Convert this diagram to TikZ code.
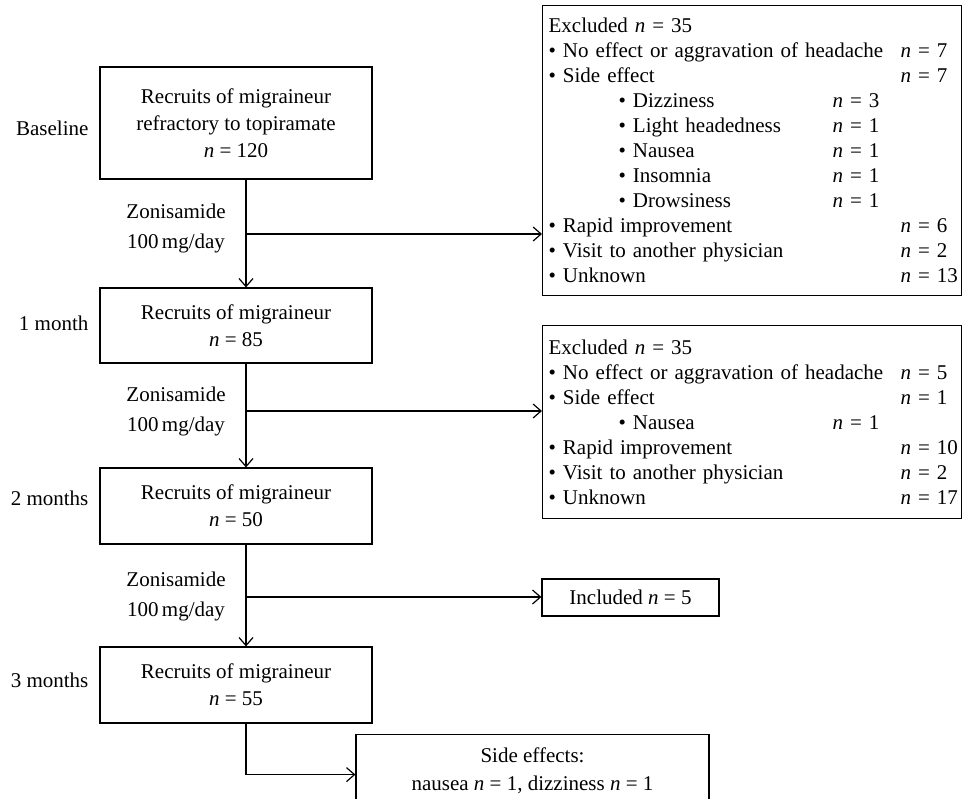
\documentclass[tikz,border=0pt]{standalone}
\usepackage{fontspec}
\setmainfont{Liberation Serif}
\usetikzlibrary{arrows.meta}

\newcommand{\nval}[1]{\textit{n}~=~#1}
\newcommand{\mainrow}[2]{\hspace*{3pt}\makebox[176pt][l]{\textbullet\ #1}\nval{#2}}
\newcommand{\subrow}[2]{\hspace*{38pt}\makebox[107pt][l]{\textbullet\ #1}\nval{#2}}

\begin{document}
\begin{tikzpicture}[
    x = 0.5pt,
    y = -0.5pt,
    >={Straight Barb[length=4pt,width=7pt]},
    line width=0.6pt,
    stage/.style = {draw, minimum width=136pt, align=center, inner sep=0pt,
              font=\fontsize{10.5}{13.5}\selectfont},
    period/.style = {anchor=east, inner sep=0pt, font=\fontsize{10.5}{12.5}\selectfont},
    dose/.style = {align=center, inner sep=0pt, font=\fontsize{10.5}{15}\selectfont},
    exclbox/.style = {draw, anchor=north west, align=left, text width=209.5pt,
              inner xsep=0pt, inner ysep=5pt,
              font=\fontsize{10.5}{12.5}\selectfont},
    outbox/.style = {draw, align=center, inner sep=0pt,
              font=\fontsize{10.5}{14}\selectfont},
    ]

\clip (0,0) rectangle (963,798);

% stages
\node[stage, minimum height=56pt] (base) at (236,123)
    {Recruits of migraineur\\refractory to topiramate\\\nval{120}};
\node[stage, minimum height=37.5pt] (month_1) at (236,325.5)
    {Recruits of migraineur\\\nval{85}};
\node[stage, minimum height=38pt] (month_2) at (236,506)
    {Recruits of migraineur\\\nval{50}};
\node[stage, minimum height=38pt] (month_3) at (236,685)
    {Recruits of migraineur\\\nval{55}};

\node[period] (lab_base) at (89,128) {Baseline};
\node[period] (lab_1) at (89,323) {1 month};
\node[period] (lab_2) at (89,498) {2 months};
\node[period] (lab_3) at (89,680) {3 months};

\node[dose] (dose_1) at (176,228) {Zonisamide\\100\,mg/day};
\node[dose] (dose_2) at (176,411) {Zonisamide\\100\,mg/day};
\node[dose] (dose_3) at (176,596) {Zonisamide\\100\,mg/day};

% outcomes
\node[exclbox, minimum height=145pt] (excl_1) at (542,5)
    {\hspace*{3pt}Excluded \nval{35}\\
     \mainrow{No effect or aggravation of headache}{7}\\
     \mainrow{Side effect}{7}\\
     \subrow{Dizziness}{3}\\
     \subrow{Light headedness}{1}\\
     \subrow{Nausea}{1}\\
     \subrow{Insomnia}{1}\\
     \subrow{Drowsiness}{1}\\
     \mainrow{Rapid improvement}{6}\\
     \mainrow{Visit to another physician}{2}\\
     \mainrow{Unknown}{13}};
\node[exclbox, minimum height=96.5pt] (excl_2) at (542,325)
    {\hspace*{3pt}Excluded \nval{35}\\
     \mainrow{No effect or aggravation of headache}{5}\\
     \mainrow{Side effect}{1}\\
     \subrow{Nausea}{1}\\
     \mainrow{Rapid improvement}{10}\\
     \mainrow{Visit to another physician}{2}\\
     \mainrow{Unknown}{17}};
\node[outbox, minimum width=88.5pt, minimum height=18.5pt] (incl) at (630.5,597.5)
    {Included \nval{5}};
\node[outbox, anchor=north, minimum width=176.5pt, minimum height=36pt] (sidefx) at (532.5,734)
    {Side effects:\\nausea \nval{1}, dizziness \nval{1}};

% flow
\draw[->] ([xshift=5pt]base.south) -- ([xshift=5pt]month_1.north);
\draw[->] ([xshift=5pt]month_1.south) -- ([xshift=5pt]month_2.north);
\draw[->] ([xshift=5pt]month_2.south) -- ([xshift=5pt]month_3.north);

\coordinate (split_1) at (246,234);
\coordinate (split_2) at (246,411);
\coordinate (split_3) at (246,597);
\draw[->] (split_1) -- (split_1 -| excl_1.west);
\draw[->] (split_2) -- (split_2 -| excl_2.west);
\draw[->] (split_3) -- (split_3 -| incl.west);
\draw[->] ([xshift=5pt]month_3.south) |- ([yshift=-2pt]sidefx.west);

\end{tikzpicture}
\end{document}
